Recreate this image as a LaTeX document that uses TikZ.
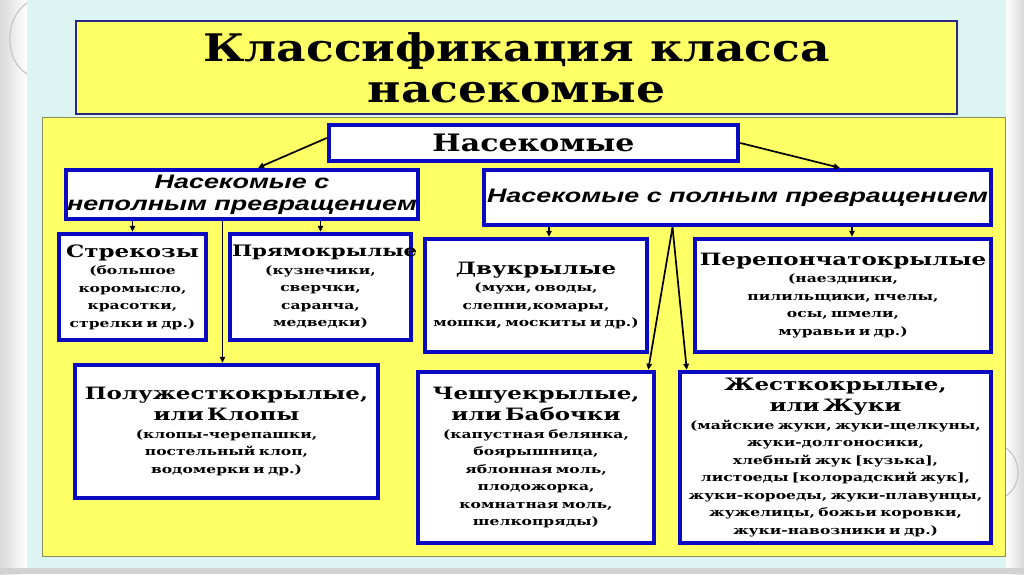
\documentclass[tikz,border=0pt]{standalone}
\usepackage{fontspec}
\usetikzlibrary{arrows.meta, positioning, calc, backgrounds}
\newfontfamily\titlefont[FakeStretch=1.2]{DejaVu Serif}
\newfontfamily\classfont[FakeStretch=1.25]{DejaVu Serif}
\newfontfamily\orderfont[FakeStretch=1.35]{DejaVu Serif}
\newfontfamily\groupfont[FakeStretch=1.38]{Liberation Sans}
\definecolor{slideyellow}{RGB}{255,255,102}
\definecolor{slidecyan}{RGB}{220,245,243}
\definecolor{panelgray}{RGB}{140,140,90}
\definecolor{titlenavy}{RGB}{40,40,130}
\definecolor{boxblue}{RGB}{10,10,195}
\newcommand{\ordname}[2][17]{{\fontsize{#1}{21}\selectfont #2\par}}
\newcommand{\ordlist}[1]{{\fontsize{11.5}{17.5}\selectfont #1\par}}

\begin{document}
\begin{tikzpicture}[
  x=1pt, y=-1pt,
  order/.style={draw=boxblue, line width=4.5pt, fill=white, align=center, inner sep=1pt, font=\orderfont\bfseries},
  group/.style={order, font={\groupfont\bfseries\itshape\fontsize{19.5}{22}\selectfont}},
  arr/.style={-{Triangle[length=6pt, width=5.5pt]}, line width=1.7pt}
]
% slide background
\fill[white] (0,0) rectangle (1024,574);
\shade[left color=gray!30, right color=white] (0,0) rectangle (27,574);
\shade[left color=white, right color=gray!30] (1006,0) rectangle (1024,574);
\fill[gray!35] (0,568) rectangle (1024,574);
\fill[slidecyan] (27,0) rectangle (1006,568);
\draw[gray!45, line width=1.2pt] (27,3) .. controls (4,18) and (4,60) .. (27,74);
\draw[gray!45, line width=1.2pt] (1006,448) .. controls (1022,460) and (1022,485) .. (1006,496);

% title and panel
\node[draw=titlenavy, line width=2pt, fill=slideyellow, minimum width=881pt, minimum height=93pt,
  align=center, font={\titlefont\bfseries\fontsize{38}{41}\selectfont}] (title) at (516.5,67.5)
  {Классификация класса\\насекомые};
\node[draw=panelgray, line width=1.2pt, fill=slideyellow, minimum width=963pt, minimum height=439pt] (panel) at (524,337) {};

% class and groups
\node[order, minimum width=409pt, minimum height=36pt, font={\classfont\bfseries\fontsize{24}{26}\selectfont}] (insects) at (533.5,143) {Насекомые};
\node[group, minimum width=350pt, minimum height=49pt] (incomplete) at (242,194.5) {Насекомые с\\неполным превращением};
\node[group, minimum width=507pt, minimum height=55pt] (complete) at (737.5,197.5) {Насекомые с полным превращением};

% orders
\node[order, minimum width=147pt, minimum height=106pt, text width=140pt] (dragonfly) at (132.5,287)
  {\ordname{Стрекозы}\ordlist{(большое\\коромысло,\\красотки,\\стрелки и др.)}};
\node[order, minimum width=181pt, minimum height=106pt, text width=177pt] (orthoptera) at (320.5,287)
  {\ordname[15.8]{Прямокрылые}\ordlist{(кузнечики,\\сверчки,\\саранча,\\медведки)}};
\node[order, minimum width=303pt, minimum height=133pt, text width=296pt] (bugs) at (226.5,431.5)
  {\ordname{Полужесткокрылые,\\или Клопы}\ordlist{(клопы-черепашки,\\постельный клоп,\\водомерки и др.)}};
\node[order, minimum width=222pt, minimum height=113pt, text width=215pt] (flies) at (536,295.5)
  {\ordname{Двукрылые}\ordlist{(мухи, оводы,\\слепни,комары,\\мошки, москиты и др.)}};
\node[order, minimum width=296pt, minimum height=113pt, text width=290pt] (wasps) at (843,295.5)
  {\ordname{Перепончатокрылые}\ordlist{(наездники,\\пилильщики, пчелы,\\осы, шмели,\\муравьи и др.)}};
\node[order, minimum width=236pt, minimum height=171pt, text width=230pt] (butterflies) at (536,457.5)
  {\ordname{Чешуекрылые,\\или Бабочки}\ordlist{(капустная белянка,\\боярышница,\\яблонная моль,\\плодожорка,\\комнатная моль,\\шелкопряды)}};
\node[order, minimum width=311pt, minimum height=171pt, text width=305pt] (beetles) at (835.5,457.5)
  {\ordname{Жесткокрылые,\\или Жуки}\ordlist{(майские жуки, жуки-щелкуны,\\жуки-долгоносики,\\хлебный жук [кузька],\\листоеды [колорадский жук],\\жуки-короеды, жуки-плавунцы,\\жужелицы, божьи коровки,\\жуки-навозники и др.)}};

% connectors
\draw[arr] ([yshift=5pt]insects.west) -- ($(incomplete.north west)!0.545!(incomplete.north east)$);
\draw[arr] (insects.east) -- ($(complete.north west)!0.70!(complete.north east)$);
\draw[arr] (dragonfly.north |- incomplete.south) -- (dragonfly.north);
\draw[arr] (orthoptera.north |- incomplete.south) -- (orthoptera.north);
\draw[arr] ([xshift=-4pt]bugs.north |- incomplete.south) -- ([xshift=-4pt]bugs.north);
\draw[arr] ([xshift=13pt]flies.north |- complete.south) -- ([xshift=13pt]flies.north);
\draw[arr] ([xshift=9pt]wasps.north |- complete.south) -- ([xshift=9pt]wasps.north);
\draw[arr] ([xshift=-65pt]complete.south) -- ([xshift=-8pt]butterflies.north east);
\draw[arr] ([xshift=-65pt]complete.south) -- ([xshift=9pt]beetles.north west);
\end{tikzpicture}
\end{document}
